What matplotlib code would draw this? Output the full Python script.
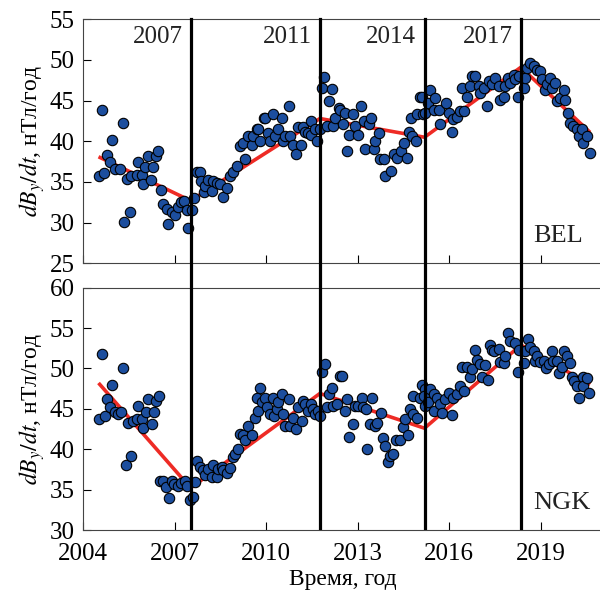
import numpy as np
import matplotlib
matplotlib.use('Agg')
import matplotlib.pyplot as plt

plt.rcParams['font.family'] = ['Liberation Serif', 'DejaVu Serif']
plt.rcParams['mathtext.fontset'] = 'stix'

# ---- BEL observatory: dBy/dt, nT/yr ----
bel_t = [2004.51, 2004.62, 2004.67, 2004.78, 2004.87, 2004.95, 2005.03, 2005.20, 2005.29,
         2005.35, 2005.42, 2005.53, 2005.58, 2005.75, 2005.80, 2005.91, 2005.96, 2006.02,
         2006.13, 2006.21, 2006.29, 2006.38, 2006.46, 2006.54, 2006.62, 2006.73, 2006.79,
         2006.90, 2007.00, 2007.11, 2007.22, 2007.30, 2007.39, 2007.44, 2007.55, 2007.63,
         2007.72, 2007.83, 2007.85, 2007.96, 2007.99, 2008.10, 2008.21, 2008.26, 2008.37,
         2008.48, 2008.59, 2008.70, 2008.81, 2008.92, 2009.03, 2009.14, 2009.25, 2009.30,
         2009.41, 2009.52, 2009.58, 2009.69, 2009.74, 2009.80, 2009.91, 2009.96, 2010.07,
         2010.12, 2010.23, 2010.29, 2010.40, 2010.51, 2010.56, 2010.62, 2010.73, 2010.78,
         2010.87, 2010.98, 2011.05, 2011.13, 2011.19, 2011.26, 2011.37, 2011.48, 2011.48,
         2011.59, 2011.65, 2011.76, 2011.82, 2011.89, 2011.98, 2012.06, 2012.14, 2012.20,
         2012.26, 2012.37, 2012.42, 2012.53, 2012.59, 2012.66, 2012.73, 2012.83, 2012.90,
         2013.01, 2013.12, 2013.19, 2013.25, 2013.36, 2013.45, 2013.52, 2013.58, 2013.69,
         2013.74, 2013.85, 2013.91, 2014.08, 2014.19, 2014.30, 2014.41, 2014.52, 2014.63,
         2014.69, 2014.76, 2014.79, 2014.91, 2014.96, 2015.05, 2015.10, 2015.15, 2015.21,
         2015.32, 2015.38, 2015.49, 2015.54, 2015.65, 2015.71, 2015.90, 2015.98, 2016.09,
         2016.14, 2016.25, 2016.36, 2016.42, 2016.47, 2016.58, 2016.69, 2016.75, 2016.86,
         2016.97, 2017.02, 2017.13, 2017.24, 2017.30, 2017.40, 2017.51, 2017.62, 2017.68,
         2017.79, 2017.84, 2017.92, 2018.00, 2018.11, 2018.17, 2018.24, 2018.30, 2018.44,
         2018.49, 2018.55, 2018.66, 2018.77, 2018.88, 2018.99, 2019.04, 2019.15, 2019.20,
         2019.31, 2019.37, 2019.48, 2019.53, 2019.64, 2019.75, 2019.80, 2019.91, 2019.97,
         2020.07, 2020.18, 2020.24, 2020.34, 2020.40, 2020.51, 2020.62]
bel_v = [35.7, 43.9, 36.1, 38.3, 37.4, 40.2, 36.6, 36.6, 42.2,
         30.1, 35.4, 31.3, 35.7, 35.9, 37.4, 35.9, 34.7, 36.8,
         38.2, 35.2, 36.8, 38.2, 38.8, 34.0, 32.3, 31.7, 29.8,
         31.3, 31.0, 31.9, 32.5, 32.7, 31.5, 29.4, 31.5, 33.0,
         36.2, 36.2, 35.1, 33.8, 34.5, 35.3, 33.9, 35.1, 34.9,
         34.7, 33.1, 34.3, 35.7, 36.2, 37.0, 39.4, 39.8, 37.8,
         40.6, 39.6, 40.6, 41.5, 41.5, 40.0, 42.9, 42.9, 41.0,
         40.0, 43.3, 40.6, 41.5, 42.9, 40.0, 40.6, 44.3, 40.6,
         39.6, 38.4, 41.7, 39.6, 41.7, 41.2, 41.0, 42.5, 40.8,
         41.5, 40.0, 41.5, 46.6, 47.9, 41.9, 44.9, 46.4, 41.9,
         42.9, 44.1, 43.9, 42.1, 43.5, 38.8, 40.8, 43.3, 41.9,
         40.8, 44.4, 42.5, 39.0, 42.1, 42.9, 39.0, 40.0, 41.0,
         37.8, 37.8, 35.7, 36.4, 38.4, 38.0, 38.8, 39.8, 38.0,
         41.2, 42.9, 40.6, 40.0, 43.3, 45.5, 45.5, 43.3, 43.5,
         44.7, 46.3, 43.9, 45.3, 43.9, 42.1, 44.7, 43.5, 41.2,
         42.7, 43.0, 43.7, 46.6, 43.7, 45.5, 46.8, 48.0, 48.0,
         46.8, 45.9, 46.6, 44.4, 47.4, 47.0, 47.8, 46.8, 45.1,
         45.5, 46.8, 47.8, 47.2, 48.2, 47.6, 45.5, 48.0, 46.6,
         47.8, 49.0, 49.6, 49.2, 48.8, 48.6, 47.6, 46.3, 47.0,
         47.8, 46.6, 47.2, 44.9, 45.3, 46.3, 45.1, 43.5, 42.3,
         41.9, 41.5, 40.6, 41.5, 39.8, 40.6, 38.6]

# ---- NGK observatory ----
ngk_t = [2004.51, 2004.62, 2004.70, 2004.78, 2004.87, 2004.95, 2005.03, 2005.14, 2005.25,
         2005.29, 2005.40, 2005.48, 2005.55, 2005.64, 2005.75, 2005.80, 2005.91, 2005.96,
         2006.07, 2006.13, 2006.24, 2006.32, 2006.38, 2006.48, 2006.51, 2006.62, 2006.71,
         2006.80, 2006.90, 2006.98, 2007.11, 2007.22, 2007.33, 2007.39, 2007.50, 2007.59,
         2007.66, 2007.72, 2007.83, 2007.94, 2007.99, 2008.10, 2008.21, 2008.26, 2008.37,
         2008.43, 2008.54, 2008.59, 2008.70, 2008.81, 2008.92, 2008.97, 2009.08, 2009.14,
         2009.25, 2009.30, 2009.41, 2009.52, 2009.63, 2009.71, 2009.74, 2009.79, 2009.85,
         2009.96, 2010.02, 2010.12, 2010.21, 2010.25, 2010.34, 2010.40, 2010.51, 2010.56,
         2010.62, 2010.73, 2010.78, 2010.87, 2010.98, 2011.05, 2011.16, 2011.19, 2011.26,
         2011.37, 2011.48, 2011.53, 2011.59, 2011.70, 2011.76, 2011.82, 2011.92, 2011.98,
         2012.07, 2012.14, 2012.20, 2012.33, 2012.42, 2012.50, 2012.58, 2012.66, 2012.72,
         2012.83, 2012.91, 2013.02, 2013.13, 2013.18, 2013.27, 2013.29, 2013.40, 2013.48,
         2013.56, 2013.64, 2013.75, 2013.84, 2013.89, 2014.00, 2014.05, 2014.16, 2014.27,
         2014.38, 2014.49, 2014.54, 2014.65, 2014.71, 2014.80, 2014.82, 2014.93, 2015.04,
         2015.12, 2015.20, 2015.16, 2015.21, 2015.32, 2015.38, 2015.49, 2015.49, 2015.60,
         2015.71, 2015.76, 2015.87, 2015.98, 2016.09, 2016.14, 2016.25, 2016.36, 2016.42,
         2016.47, 2016.58, 2016.69, 2016.75, 2016.86, 2016.91, 2017.02, 2017.08, 2017.19,
         2017.26, 2017.35, 2017.40, 2017.48, 2017.62, 2017.68, 2017.79, 2017.84, 2017.92,
         2018.00, 2018.17, 2018.24, 2018.30, 2018.44, 2018.49, 2018.57, 2018.66, 2018.77,
         2018.82, 2018.88, 2018.99, 2019.10, 2019.18, 2019.26, 2019.37, 2019.42, 2019.53,
         2019.59, 2019.70, 2019.78, 2019.86, 2019.95, 2020.02, 2020.10, 2020.18, 2020.27,
         2020.38, 2020.40, 2020.53, 2020.60]
ngk_v = [43.7, 51.8, 44.1, 46.2, 45.2, 48.0, 44.6, 44.3, 44.6,
         50.1, 38.0, 43.3, 39.1, 43.5, 43.7, 45.4, 43.7, 42.6,
         44.6, 46.2, 43.1, 44.6, 46.0, 46.6, 36.1, 36.1, 35.3,
         34.0, 36.1, 35.7, 35.5, 35.8, 36.1, 35.5, 33.7, 34.1,
         36.0, 38.5, 37.8, 37.4, 36.8, 37.6, 36.6, 38.0, 36.6,
         37.6, 37.8, 37.4, 37.0, 37.7, 39.0, 39.4, 40.0, 41.9,
         41.7, 41.1, 42.9, 41.7, 43.9, 46.4, 44.7, 47.6, 45.8,
         46.4, 45.2, 44.3, 46.4, 44.1, 45.0, 45.8, 46.8, 44.3,
         42.9, 46.2, 42.9, 43.9, 42.5, 45.2, 43.5, 46.0, 45.6,
         44.7, 45.6, 45.0, 44.3, 44.7, 44.1, 49.5, 50.5, 45.2,
         46.8, 47.6, 45.4, 45.6, 49.1, 49.1, 44.7, 46.2, 41.5,
         43.1, 45.4, 45.4, 46.4, 45.2, 45.0, 40.0, 43.1, 46.4,
         42.9, 43.2, 44.5, 41.4, 40.4, 38.4, 39.2, 39.4, 41.1,
         41.1, 42.7, 43.8, 41.7, 45.0, 46.6, 44.3, 43.9, 46.4,
         48.0, 47.4, 46.6, 45.4, 45.8, 47.4, 46.8, 44.7, 46.4,
         45.6, 44.5, 46.2, 47.0, 44.2, 46.4, 46.8, 47.8, 50.2,
         47.2, 50.2, 49.0, 49.9, 52.3, 51.1, 50.5, 49.0, 50.4,
         48.6, 52.9, 52.3, 52.1, 52.4, 50.8, 50.7, 51.6, 54.4,
         53.4, 53.2, 49.5, 52.3, 50.7, 52.1, 53.6, 52.7, 52.1,
         50.9, 51.5, 50.8, 50.9, 50.1, 50.5, 52.1, 50.9, 50.9,
         49.4, 50.2, 52.1, 51.5, 50.7, 49.0, 48.4, 47.8, 46.4,
         48.9, 47.8, 48.8, 47.0]

# piecewise linear fits between jerks
fit_t = [2004.5, 2007.52, 2011.76, 2015.19, 2018.35, 2020.62]
bel_fit = [38.1, 32.7, 42.8, 40.5, 49.1, 41.1]
ngk_fit = [48.2, 35.2, 46.9, 42.6, 52.9, 48.0]

jerk_t = [2007.52, 2011.76, 2015.19, 2018.35]
jerk_lbl = ['2007', '2011', '2014', '2017']

fig = plt.figure(figsize=(6.0, 5.98), dpi=100)
ax1 = fig.add_axes([0.1388, 0.5596, 0.864, 0.4082])
ax2 = fig.add_axes([0.1388, 0.1137, 0.864, 0.4053])

panels = [(ax1, bel_t, bel_v, bel_fit, (25, 55), 'BEL', 28.4),
          (ax2, ngk_t, ngk_v, ngk_fit, (30, 60), 'NGK', 33.3)]

for ax, tt, vv, ff, ylim, name, ytxt in panels:
    ax.plot(fit_t, ff, color='#ee2b25', lw=2.6, zorder=2, solid_capstyle='butt')
    ax.scatter(tt, vv, s=56, facecolor='#1c4e9e', edgecolor='black', linewidth=0.8, zorder=3)
    ax.set_xlim(2004, 2021)
    ax.set_ylim(*ylim)
    ax.set_yticks(np.arange(ylim[0], ylim[1] + 1, 5))
    ax.set_xticks(np.arange(2004, 2021, 3))
    ax.tick_params(direction='in', length=6, width=0.8, labelsize=18)
    ax.tick_params(axis='y', pad=6)
    ax.tick_params(axis='x', pad=9)
    for sp in ['top', 'left', 'bottom']:
        ax.spines[sp].set_linewidth(0.8)
        ax.spines[sp].set_color('#444444')
    ax.spines['right'].set_visible(False)
    ax.set_ylabel(r'$dB_y/dt$, нТл/год', fontsize=17, labelpad=2)
    ax.text(2018.74, ytxt, name, fontsize=19, ha='left', va='center', color='#222222')

ax1.tick_params(labelbottom=False)
ax2.set_xlabel('Время, год', fontsize=17, labelpad=3)

# jerk epochs, drawn through both panels
for x in jerk_t:
    ax1.axvline(x, ymin=-0.103, ymax=1, color='black', lw=2.3, zorder=4, clip_on=False)
    ax2.axvline(x, color='black', lw=2.3, zorder=4)
for x, s in zip(jerk_t, jerk_lbl):
    ax1.text(x - 0.27, 52.8, s, fontsize=18, ha='right', va='center', color='#222222')

fig.savefig('out.png', dpi=100)
